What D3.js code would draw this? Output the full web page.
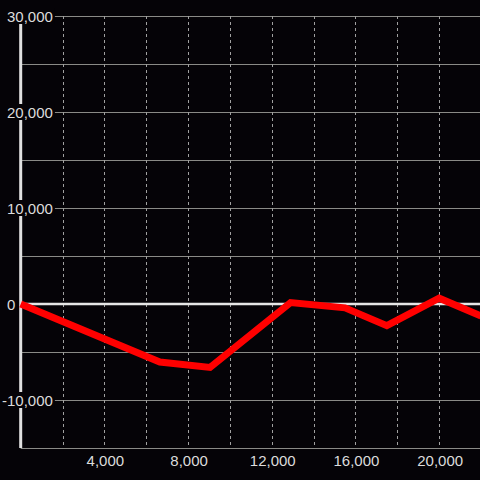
<!DOCTYPE html>
<html><head><meta charset="utf-8">
<script src="https://cdn.jsdelivr.net/npm/d3@7"></script>
<style>html,body{margin:0;padding:0;background:#050307;}svg{display:block;}</style>
</head><body>
<script>
const xValues = [0, 6650, 9050, 12900, 15500, 17500, 20000, 22000];
const yValues = [0, -6050, -6600, 150, -400, -2250, 600, -1250];
const yTicks = [-10000, 0, 10000, 20000, 30000];
const yTickLabels = ["-10,000", "0", "10,000", "20,000", "30,000"];
const yGrid = [-15000, -10000, -5000, 0, 5000, 10000, 15000, 20000, 25000, 30000];
const xTicks = [4000, 8000, 12000, 16000, 20000];
const xTickLabels = ["4,000", "8,000", "12,000", "16,000", "20,000"];
const xGrid = [2000, 4000, 6000, 8000, 10000, 12000, 14000, 16000, 18000, 20000];

const W = 480, H = 480;
const x = d3.scaleLinear().domain([0, 22000]).range([20.7, 481]);
const y = d3.scaleLinear().domain([-15000, 30000]).range([448, 16]);

const svg = d3.select("body").append("svg").attr("width", W).attr("height", H);
svg.append("rect").attr("width", W).attr("height", H).attr("fill", "#050307");

const font = "'Liberation Sans', Arial, sans-serif";

// horizontal grid
svg.append("g").selectAll("line").data(yGrid).join("line")
  .attr("x1", x(0)).attr("x2", W)
  .attr("y1", d => Math.round(y(d)) + 0.5).attr("y2", d => Math.round(y(d)) + 0.5)
  .attr("stroke", "#8a8a86").attr("stroke-width", 1);

// vertical dashed grid
svg.append("g").selectAll("line").data(xGrid).join("line")
  .attr("x1", d => Math.round(x(d)) + 0.5).attr("x2", d => Math.round(x(d)) + 0.5)
  .attr("y1", y(30000)).attr("y2", y(-15000))
  .attr("stroke", "#a0a0a0").attr("stroke-width", 1).attr("stroke-dasharray", "3,3");

// zero line
svg.append("line").attr("x1", x(0)).attr("x2", W)
  .attr("y1", y(0)).attr("y2", y(0))
  .attr("stroke", "#e6e6e6").attr("stroke-width", 2.5);

// y axis line
svg.append("line").attr("x1", x(0)).attr("x2", x(0))
  .attr("y1", y(30000)).attr("y2", y(-15000))
  .attr("stroke", "#e0e0e0").attr("stroke-width", 3);

// y labels with background
const yl = svg.append("g").selectAll("g").data(yTicks).join("g");
const bg = yl.append("rect").attr("fill", "#050307");
const yt = yl.append("text")
  .attr("x", (d, i) => yTickLabels[i].startsWith("-") ? 2 : 7)
  .attr("y", d => y(d) + 5.5)
  .attr("text-anchor", "start")
  .attr("font-family", font).attr("font-size", 15)
  .attr("fill", "#dcdcdc")
  .text((d, i) => yTickLabels[i]);
yt.each(function(d, i) {
  const b = this.getBBox();
  d3.select(bg.nodes()[i])
    .attr("x", b.x - 2).attr("y", y(d) - 8)
    .attr("width", b.width + 4).attr("height", 16);
});

// x labels
svg.append("g").selectAll("text").data(xTicks).join("text")
  .attr("x", d => x(d) + 1).attr("y", 466)
  .attr("text-anchor", "middle")
  .attr("font-family", font).attr("font-size", 15)
  .attr("fill", "#dcdcdc")
  .text((d, i) => xTickLabels[i]);

// data line
const line = d3.line().x((d, i) => x(xValues[i])).y(d => y(d));
svg.append("path").datum(yValues)
  .attr("d", line)
  .attr("fill", "none").attr("stroke", "#ff0000")
  .attr("stroke-width", 7).attr("stroke-linejoin", "miter");
</script>
</body></html>
